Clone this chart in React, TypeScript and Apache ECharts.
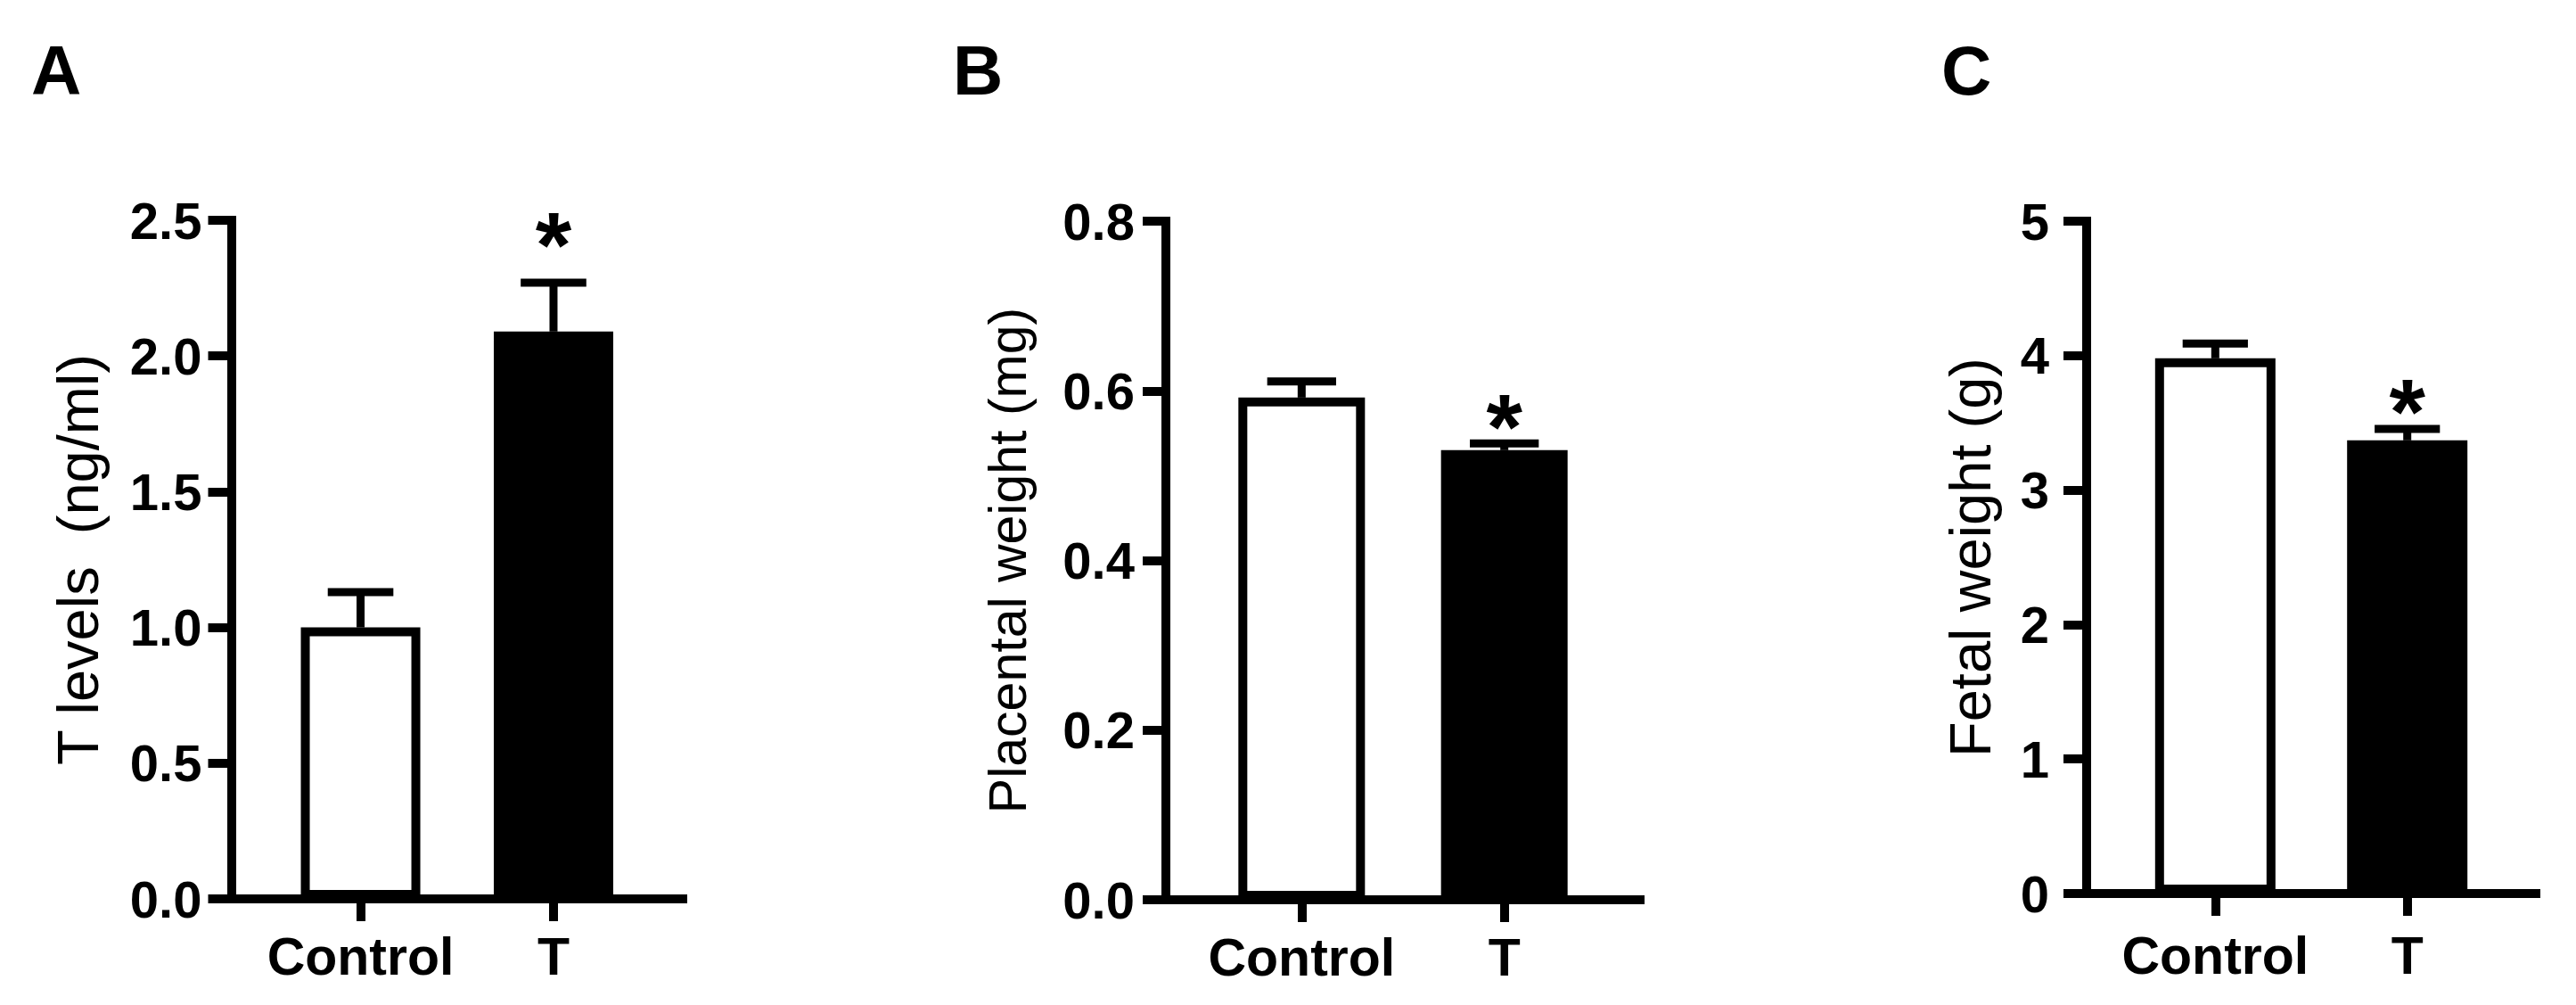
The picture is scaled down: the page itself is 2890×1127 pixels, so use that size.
import React, { useEffect, useRef } from "react";
import * as echarts from "echarts";

// ---------- data ----------
const categories = ["Control", "T"];
const barFills = ["#ffffff", "#000000"];
const significance = ["", "*"];

const tLevels = [1.0, 2.09];
const tLevelsErr = [0.13, 0.18];

const placentalWeight = [0.592, 0.53];
const placentalWeightErr = [0.019, 0.008];

const fetalWeight = [3.98, 3.37];
const fetalWeightErr = [0.11, 0.085];

const panelLetters = ["A", "B", "C"];
const axisNames = ["T levels  (ng/ml)", "Placental weight (mg)", "Fetal weight (g)"];
const yMaxes = [2.5, 0.8, 5];
const yIntervals = [0.5, 0.2, 1];
const yDecimals = [1, 1, 0];

// ---------- layout (positions / sizes / styles) ----------
const FONT = "'Liberation Sans', Arial, Helvetica, sans-serif";
const layouts = [
  { left: 259.5, top: 247, width: 506.5, height: 761, barW: 134, nameGap: 140, nameSize: 65, labelMargin: 33, xLabelMargin: 35, starGap: 64, letterX: 35 },
  { left: 1308, top: 248, width: 532, height: 761, barW: 142, nameGap: 148, nameSize: 59, labelMargin: 35, xLabelMargin: 35, starGap: 40, letterX: 1069 },
  { left: 2341, top: 248, width: 504, height: 754, barW: 135, nameGap: 98, nameSize: 65, labelMargin: 42, xLabelMargin: 40, starGap: 41, letterX: 2178 },
];
const X_MIN = 0.33;
const X_MAX = 2.67;
const CAP_UNITS = 0.34;
const STAR_SIZE = 104;
const LETTER_SIZE = 78;

const panelMeans = [tLevels, placentalWeight, fetalWeight];
const panelErrs = [tLevelsErr, placentalWeightErr, fetalWeightErr];

function buildOption() {
  const grid: any[] = [];
  const xAxis: any[] = [];
  const yAxis: any[] = [];
  const series: any[] = [];
  const graphic: any[] = [];

  layouts.forEach((L, i) => {
    grid.push({ left: L.left, top: L.top, width: L.width, height: L.height, containLabel: false, outerBoundsMode: "none" });
    xAxis.push({
      type: "value",
      gridIndex: i,
      min: X_MIN,
      max: X_MAX,
      splitLine: { show: false },
      axisLine: { show: true, onZero: false, lineStyle: { color: "#000", width: 10, cap: "square" } },
      axisTick: { show: true, inside: false, length: 25, customValues: [1, 2], lineStyle: { color: "#000", width: 10 } },
      axisLabel: {
        show: true,
        customValues: [1, 2],
        margin: L.xLabelMargin,
        color: "#000",
        fontFamily: FONT,
        fontWeight: "bold",
        fontSize: 59,
        formatter: (v: number) => categories[Math.round(v) - 1] ?? "",
      },
    });
    yAxis.push({
      type: "value",
      gridIndex: i,
      min: 0,
      max: yMaxes[i],
      interval: yIntervals[i],
      name: axisNames[i],
      nameLocation: "middle",
      nameRotate: 90,
      nameGap: L.nameGap,
      nameMoveOverlap: false,
      nameTextStyle: { color: "#000", fontFamily: FONT, fontSize: L.nameSize, fontWeight: "normal" },
      splitLine: { show: false },
      axisLine: { show: true, lineStyle: { color: "#000", width: 10, cap: "square" } },
      axisTick: { show: true, inside: false, length: 26, lineStyle: { color: "#000", width: 10 } },
      axisLabel: {
        show: true,
        margin: L.labelMargin,
        showMinLabel: true,
        showMaxLabel: true,
        color: "#000",
        fontFamily: FONT,
        fontWeight: "bold",
        fontSize: 58,
        formatter: (v: number) => v.toFixed(yDecimals[i]),
      },
    });

    const means = panelMeans[i];
    const errs = panelErrs[i];

    series.push({
      type: "bar",
      xAxisIndex: i,
      yAxisIndex: i,
      barWidth: L.barW,
      z: 2,
      data: means.map((m, k) => ({
        value: [k + 1, m],
        itemStyle: { color: barFills[k], borderColor: "#000", borderWidth: 10 },
      })),
    });

    series.push({
      type: "custom",
      xAxisIndex: i,
      yAxisIndex: i,
      z: 5,
      clip: false,
      data: means.map((m, k) => [k + 1, m, errs[k]]),
      encode: { x: 0, y: 1 },
      renderItem: (params: any, api: any) => {
        const x = api.value(0);
        const m = api.value(1);
        const e = api.value(2);
        const base = api.coord([x, m]);
        const top = api.coord([x, m + e]);
        const hw = api.size([CAP_UNITS, 0])[0] / 2;
        const children: any[] = [
          { type: "line", shape: { x1: base[0], y1: base[1], x2: top[0], y2: top[1] }, style: { stroke: "#000", lineWidth: 9 } },
          { type: "line", shape: { x1: top[0] - hw, y1: top[1], x2: top[0] + hw, y2: top[1] }, style: { stroke: "#000", lineWidth: 9 } },
        ];
        const s = significance[params.dataIndex];
        if (s) {
          children.push({
            type: "text",
            x: top[0],
            y: top[1] - L.starGap + STAR_SIZE * 0.21,
            style: { text: s, fontSize: STAR_SIZE, fontWeight: "bold", fontFamily: FONT, fill: "#000", align: "center", verticalAlign: "middle" },
          });
        }
        return { type: "group", children };
      },
    });

    graphic.push({
      type: "text",
      x: L.letterX,
      y: 40,
      style: { text: panelLetters[i], fontSize: LETTER_SIZE, fontWeight: "bold", fontFamily: FONT, fill: "#000", align: "left", verticalAlign: "top" },
    });
  });

  return {
    animation: false,
    backgroundColor: "#ffffff",
    grid,
    xAxis,
    yAxis,
    series,
    graphic,
  };
}

export default function App() {
  const ref = useRef<HTMLDivElement>(null);
  useEffect(() => {
    if (!ref.current) return;
    const chart = echarts.init(ref.current, null, { renderer: "svg" });
    chart.setOption(buildOption() as any);
    return () => chart.dispose();
  }, []);
  return (
    <div
      ref={ref}
      style={{ position: "absolute", left: 0, top: 0, width: 2890, height: 1127, background: "#fff" }}
    />
  );
}
